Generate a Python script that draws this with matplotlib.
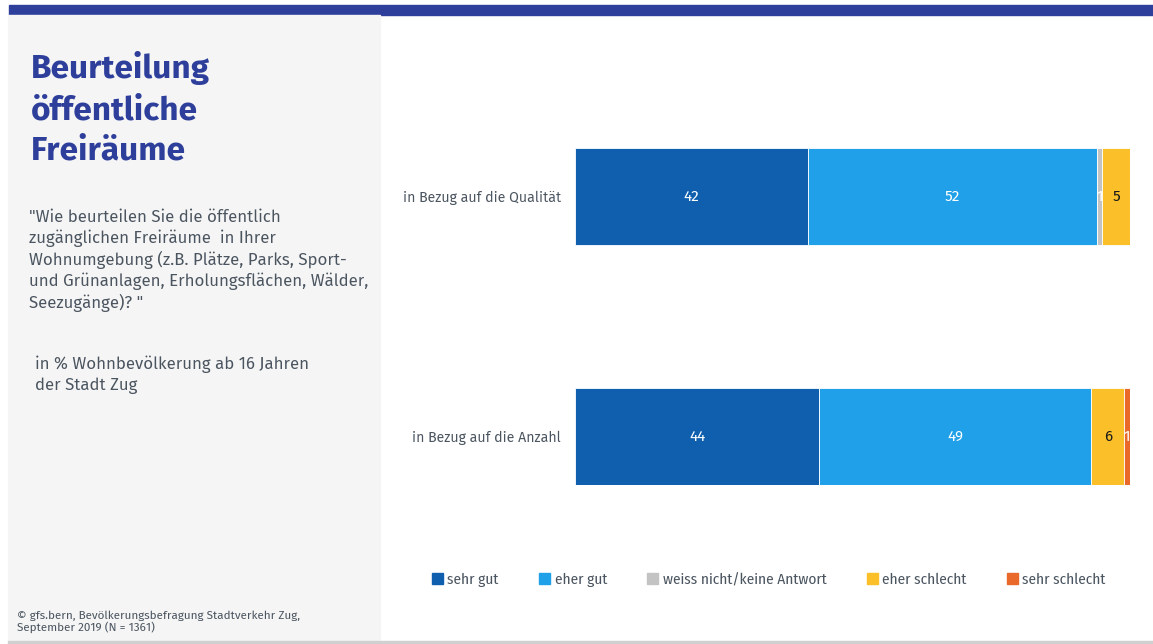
import matplotlib
matplotlib.use("Agg")
import matplotlib.pyplot as plt
import matplotlib.patches as mpatches

FONT = ["Fira Sans", "Open Sans", "DejaVu Sans"]
FONT_COND = ["Fira Sans Condensed", "Fira Sans", "Open Sans", "DejaVu Sans"]
plt.rcParams["font.family"] = FONT

# Survey results (percent)
rows = ["in Bezug auf die Qualität", "in Bezug auf die Anzahl"]
categories = ["sehr gut", "eher gut", "weiss nicht/keine Antwort", "eher schlecht", "sehr schlecht"]
sehr_gut = [42, 44]
eher_gut = [52, 49]
weiss_nicht = [1, 0]
eher_schlecht = [5, 6]
sehr_schlecht = [0, 1]

colors = ["#0F5FAE", "#1FA0E8", "#C3C3C3", "#FBBF2A", "#E8692A"]
label_colors = ["white", "white", "white", "#1a1a1a", "white"]

TITLE_BLUE = "#2E3F9B"
TEXT_GREY = "#4B5560"

W, H = 1153, 644
fig = plt.figure(figsize=(W / 100, H / 100), dpi=100)
fig.patch.set_facecolor("white")


def px(x, y):
    return x / W, 1 - y / H


# page frame: blue band, grey side panel, bottom rule
fig.patches.append(mpatches.Rectangle(px(9, 15), (W - 9) / W, 10 / H,
                                      transform=fig.transFigure, color=TITLE_BLUE, zorder=0))
fig.patches.append(mpatches.Rectangle(px(8, 641), 372 / W, 626 / H,
                                      transform=fig.transFigure, color="#F5F5F5", zorder=0))
fig.patches.append(mpatches.Rectangle(px(8, 644), (W - 8) / W, 3 / H,
                                      transform=fig.transFigure, color="#D0D0D0", zorder=0))


def lines(x, y0, step, texts, **kw):
    for i, t in enumerate(texts):
        fig.text(*px(x, y0 + i * step), t, va="baseline", ha="left", **kw)


# side panel text
lines(31, 78, 41, ["Beurteilung", "öffentliche", "Freiräume"],
      color=TITLE_BLUE, fontsize=24, fontweight="bold")
lines(29, 222, 21.4, ['"Wie beurteilen Sie die öffentlich',
                      'zugänglichen Freiräume  in Ihrer',
                      'Wohnumgebung (z.B. Plätze, Parks, Sport-',
                      'und Grünanlagen, Erholungsflächen, Wälder,',
                      'Seezugänge)? "'],
      color=TEXT_GREY, fontsize=12.1)
lines(35, 369, 21.4, ["in % Wohnbevölkerung ab 16 Jahren", "der Stadt Zug"],
      color=TEXT_GREY, fontsize=12.1)
lines(17, 619, 12, ["© gfs.bern, Bevölkerungsbefragung Stadtverkehr Zug,",
                    "September 2019 (N = 1361)"],
      color=TEXT_GREY, fontsize=8.4)

# stacked bars
top, bottom = 148, 485
ax = fig.add_axes([575 / W, 1 - bottom / H, 555 / W, (bottom - top) / H])
bar_h = 97 / 240
ypos = list(range(len(rows)))
series = [sehr_gut, eher_gut, weiss_nicht, eher_schlecht, sehr_schlecht]
left = [0] * len(rows)
for vals, col, lcol, name in zip(series, colors, label_colors, categories):
    ax.barh(ypos, vals, left=left, height=bar_h, color=col, edgecolor="white",
            linewidth=0.6, label=name)
    for y, v, l in zip(ypos, vals, left):
        if v > 0:
            ax.text(l + v / 2, y, f"{v}", ha="center", va="center", color=lcol,
                    fontsize=11)
    left = [a + b for a, b in zip(left, vals)]

ax.set_xlim(0, 100)
ax.set_ylim(1 + bar_h / 2, -bar_h / 2)
ax.set_yticks(ypos)
ax.set_yticklabels(rows, fontsize=10.2, color=TEXT_GREY)
ax.tick_params(axis="y", length=0, pad=10)
ax.set_xticks([])
for spine in ax.spines.values():
    spine.set_visible(False)
ax.patch.set_alpha(0)

handles = [mpatches.Patch(color=c, label=n) for c, n in zip(colors, categories)]
fig.legend(handles=handles, loc="center", bbox_to_anchor=(769 / W, 1 - 580 / H), ncol=5,
           frameon=False, prop={"family": FONT_COND, "size": 11},
           handlelength=0.7, handleheight=0.7, handletextpad=0.3, columnspacing=2.65,
           labelcolor=TEXT_GREY)

fig.savefig("out.png", dpi=100)
